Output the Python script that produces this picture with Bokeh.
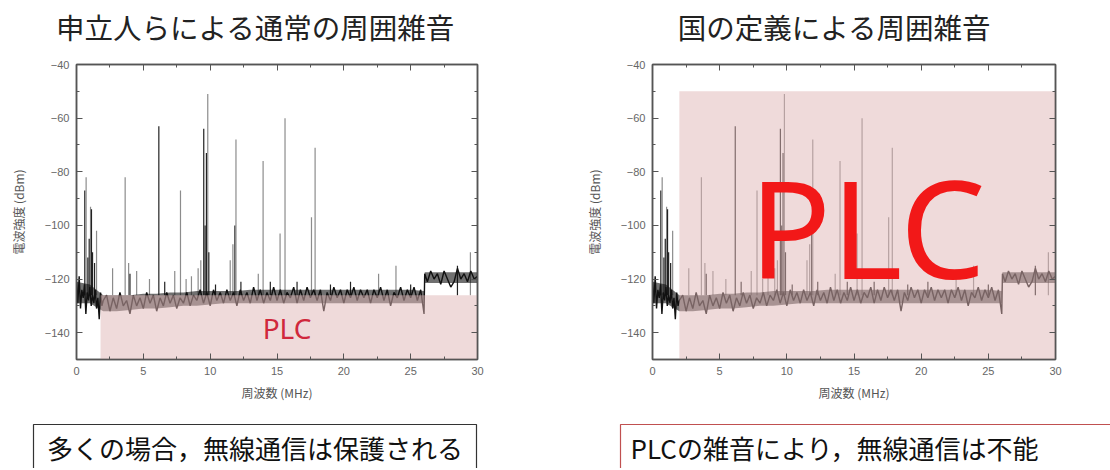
from bokeh.plotting import figure
from bokeh.models import Label, LinearAxis, Range1d, SingleIntervalTicker, CustomJSTickFormatter
from bokeh.layouts import row, column
from bokeh.embed import file_html
from bokeh.resources import INLINE

# ---------------- data ----------------
titles = ["申立人らによる通常の周囲雑音", "国の定義による周囲雑音"]
captions = ["多くの場合，無線通信は保護される", "PLCの雑音により，無線通信は不能"]
x_label = "周波数 (MHz)"
y_label = "電波強度 (dBm)"

# noise floor trace, 0 - 2 MHz
low_mhz = [0.0, 0.1, 0.2, 0.3, 0.4, 0.5, 0.6, 0.7, 0.8, 0.9, 1.0, 1.1, 1.2, 1.3, 1.4,
           1.5, 1.6, 1.7, 1.8, 1.9, 2.0]
low_dbm = [-121, -129, -119, -131, -124, -127, -122, -133, -125, -128, -123, -130, -126,
           -129, -124, -131, -127, -135, -125, -130, -128]
# noise floor trace, 2.25 - 26 MHz
mid_mhz = [2.25, 2.5, 2.75, 3.0, 3.25, 3.5, 3.75, 4.0, 4.25, 4.5, 4.75, 5.0, 5.25, 5.5, 5.75,
           6.0, 6.25, 6.5, 6.75, 7.0, 7.25, 7.5, 7.75, 8.0, 8.25, 8.5, 8.75, 9.0, 9.25, 9.5,
           9.75, 10.0, 10.25, 10.5, 10.75, 11.0, 11.25, 11.5, 11.75, 12.0, 12.25, 12.5, 12.75,
           13.0, 13.25, 13.5, 13.75, 14.0, 14.25, 14.5, 14.75, 15.0, 15.25, 15.5, 15.75, 16.0,
           16.25, 16.5, 16.75, 17.0, 17.25, 17.5, 17.75, 18.0, 18.25, 18.5, 18.75, 19.0, 19.25,
           19.5, 19.75, 20.0, 20.25, 20.5, 20.75, 21.0, 21.25, 21.5, 21.75, 22.0, 22.25, 22.5,
           22.75, 23.0, 23.25, 23.5, 23.75, 24.0, 24.25, 24.5, 24.75, 25.0, 25.25, 25.5, 25.75,
           26.0]
mid_dbm = [-126, -132, -127, -131, -125, -130, -128, -133, -126, -130, -127, -131, -125, -129,
           -126, -132, -127, -130, -125, -129, -126, -131, -127, -129, -125, -130, -126, -128,
           -124, -129, -125, -130, -124, -128, -125, -129, -124, -128, -125, -130, -124, -128,
           -125, -129, -123, -128, -124, -129, -125, -128, -123, -128, -124, -129, -125, -127,
           -123, -129, -124, -128, -123, -127, -124, -128, -124, -132, -125, -128, -123, -127,
           -124, -129, -124, -127, -123, -128, -124, -127, -124, -129, -124, -127, -123, -128,
           -124, -130, -125, -127, -123, -128, -124, -127, -123, -128, -124, -133]
# raised floor above 26 MHz
high_mhz = [26.05, 26.25, 26.5, 26.75, 27.0, 27.25, 27.5, 27.75, 28.0, 28.25, 28.5, 28.75,
            29.0, 29.25, 29.5, 29.75, 30.0]
high_dbm = [-118, -121, -117, -120, -118, -122, -117, -120, -123, -121, -116, -120, -118,
            -121, -117, -120, -119]

# dense core of the noise band (upper / lower edge)
band_mhz = [0, 1, 2, 3, 4, 5, 6, 7, 8, 9, 10, 11, 12, 13, 14, 15, 16, 17, 18, 19, 20, 21,
            22, 23, 24, 25, 26, 26.05, 27, 28, 29, 30]
band_top = [-121, -122, -126, -126, -126, -125.5, -125.5, -125, -125, -124.5, -124.5,
            -124.5, -124.5, -124, -124, -124, -124, -124, -124, -124, -124, -124, -124,
            -124, -124, -124, -124.5, -117.5, -117.5, -117.5, -117.5, -117.5]
band_bottom = [-129, -129, -132, -132, -131.5, -131, -131, -130.5, -130, -130, -129.5,
               -129, -129, -129, -129, -129, -129, -129, -129, -129, -129, -129, -129,
               -129, -129, -129, -129, -121.5, -121.5, -121.5, -121.5, -121.5]

# discrete carriers (MHz, peak dBm, dark/grey shade)
peak_mhz = [0.62, 0.72, 0.85, 0.95, 1.05, 1.12, 1.2, 1.35, 1.5, 2.7, 3.64, 3.9, 4.0, 4.5,
            5.46, 6.16, 6.6, 7.35, 7.78, 8.2, 8.6, 9.1, 9.3, 9.52, 9.62, 9.72, 9.82, 9.9,
            10.4, 11.5, 11.7, 11.85, 11.93, 12.3, 13.6, 13.96, 14.5, 15.23, 15.6, 16.5,
            17.58, 17.85, 19.0, 20.5, 22.6, 23.9, 25.0, 28.5, 29.47]
peak_dbm = [-87, -82, -112, -105, -93, -94, -110, -114, -102, -116, -82, -114, -118, -117,
            -120, -63, -121, -117, -87, -120, -119, -116, -113, -64, -100, -73, -51, -110,
            -122, -113, -107, -100, -68, -121, -118, -76, -121, -103, -60, -121,
            -97, -71, -122, -121, -118, -115, -122, -115, -110]
peak_dark = [1, 0, 1, 1, 0, 1, 1, 1, 0, 0, 0, 0, 1, 0,
             0, 1, 1, 0, 0, 0, 0, 0, 0, 1, 1, 1, 0, 1,
             1, 0, 0, 1, 0, 1, 0, 0, 1, 0, 0, 1,
             0, 0, 1, 1, 0, 0, 1, 1, 0]
floor_dbm = -126

# PLC emission areas [left MHz, right MHz, bottom dBm, top dBm]
plc_box_left = [1.8, 30, -150, -126]
plc_box_right = [2.0, 30, -150, -50]

noise_mhz = low_mhz + mid_mhz + high_mhz
noise_dbm = low_dbm + mid_dbm + high_dbm

CJK = "Noto Sans CJK JP"
AX = "#555555"
W = 555


def text_fig(h):
    f = figure(width=W, height=h, x_range=Range1d(0, W), y_range=Range1d(0, h),
               x_axis_type=None, y_axis_type=None, output_backend="svg",
               toolbar_location=None, min_border=0)
    f.outline_line_color = None
    f.grid.visible = False
    return f


def panel(box, border_left, border_right):
    p = figure(width=W, height=358, x_range=Range1d(0, 30), y_range=Range1d(-150, -40),
               output_backend="svg", toolbar_location=None,
               min_border_left=border_left, min_border_right=border_right,
               min_border_top=12, min_border_bottom=51)
    p.grid.visible = False
    p.outline_line_color = AX
    p.outline_line_width = 1.5

    p.below[0].ticker = SingleIntervalTicker(interval=5, num_minor_ticks=2)
    p.left[0].ticker = SingleIntervalTicker(interval=20, num_minor_ticks=2)
    p.add_layout(LinearAxis(ticker=SingleIntervalTicker(interval=5, num_minor_ticks=2),
                            formatter=CustomJSTickFormatter(code="return ''"),
                            major_label_standoff=0), "above")
    p.add_layout(LinearAxis(ticker=SingleIntervalTicker(interval=20, num_minor_ticks=2),
                            formatter=CustomJSTickFormatter(code="return ''"),
                            major_label_standoff=0), "right")
    for ax in p.axis:
        ax.axis_line_color = AX
        ax.axis_line_width = 1.5
        ax.major_tick_line_color = AX
        ax.minor_tick_line_color = AX
        ax.major_tick_in = 6
        ax.major_tick_out = 0
        ax.minor_tick_in = 3
        ax.minor_tick_out = 0
        ax.major_label_text_font = "Liberation Sans"
        ax.major_label_text_font_size = "11px"
        ax.major_label_text_color = "#666666"
    xa = p.below[0]
    ya = p.left[0]
    xa.major_label_standoff = 7
    ya.major_label_standoff = 7
    xa.axis_label = x_label
    ya.axis_label = y_label
    for ax in (xa, ya):
        ax.axis_label_text_font = CJK
        ax.axis_label_text_font_size = "12px"
        ax.axis_label_text_font_style = "normal"
        ax.axis_label_text_color = "#555555"
    xa.axis_label_standoff = 6
    ya.axis_label_standoff = 15

    colors = ["#222222" if d else "#8c8c8c" for d in peak_dark]
    p.segment(x0=peak_mhz, y0=[floor_dbm] * len(peak_mhz), x1=peak_mhz, y1=peak_dbm,
              line_color=colors, line_width=1.2)
    p.varea(x=band_mhz, y1=band_bottom, y2=band_top, fill_color="#111111", fill_alpha=0.6)
    p.line(noise_mhz, noise_dbm, line_color="#111111", line_width=1.4)
    p.quad(left=[box[0]], right=[box[1]], bottom=[box[2]], top=[box[3]],
           fill_color="#dfb5b5", fill_alpha=0.5, line_color=None)
    return p


# titles
t_left = text_fig(52)
t_left.add_layout(Label(x=255, y=26, text=titles[0], text_align="center",
                        text_baseline="middle", text_font=CJK, text_font_size="28.5px",
                        text_color="#222222"))
t_right = text_fig(52)
t_right.add_layout(Label(x=279, y=26, text=titles[1], text_align="center",
                         text_baseline="middle", text_font=CJK, text_font_size="28.5px",
                         text_color="#222222"))

# plots
left = panel(plc_box_left, 76, 78)
left.add_layout(Label(x=15.75, y=-138.1, text="PLC", text_align="center",
                      text_baseline="middle", text_font="Noto Sans", text_font_size="28px",
                      text_color="#d0283c"))
right = panel(plc_box_right, 97, 55)
right.add_layout(Label(x=16.0, y=-100.5, text="PLC", text_align="center",
                       text_baseline="middle", text_font="Noto Sans", text_font_size="136px",
                       text_color="#f21818"))

# captions
c_left = text_fig(58)
c_left.quad(left=[33], right=[476], bottom=[-20], top=[44], fill_color=None,
            line_color="#333333", line_width=1.2)
c_left.add_layout(Label(x=254.5, y=21, text=captions[0], text_align="center",
                        text_baseline="middle", text_font=CJK, text_font_size="26px",
                        text_color="#111111"))
c_right = text_fig(58)
c_right.quad(left=[65], right=[600], bottom=[-20], top=[44], fill_color=None,
             line_color="#c05050", line_width=1.2)
c_right.add_layout(Label(x=75, y=21, text=captions[1], text_align="left",
                         text_baseline="middle", text_font=CJK, text_font_size="26px",
                         text_color="#111111"))

layout = column(row(t_left, t_right), row(left, right), row(c_left, c_right))
open("out.html", "w").write(file_html(layout, INLINE))
